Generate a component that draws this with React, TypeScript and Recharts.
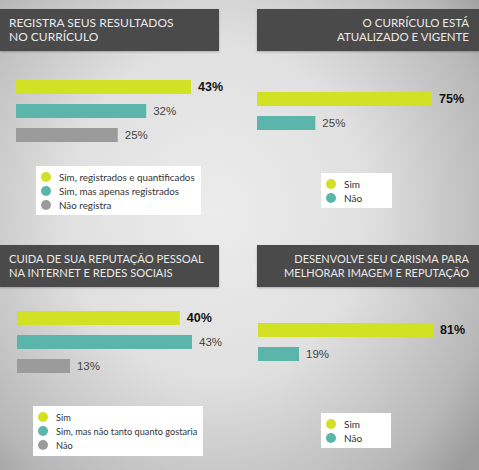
import React from 'react';
import { BarChart, Bar, XAxis, YAxis, Cell, LabelList } from 'recharts';

// survey answers, one small chart per question
const resultCategories = ['Sim, registrados e quantificados', 'Sim, mas apenas registrados', 'Não registra'];
const resultValues = [43, 32, 25];

const updatedCategories = ['Sim', 'Não'];
const updatedValues = [75, 25];

const reputationCategories = ['Sim', 'Sim, mas não tanto quanto gostaria', 'Não'];
const reputationValues = [40, 43, 13];

const charismaCategories = ['Sim', 'Não'];
const charismaValues = [81, 19];

const COLORS = ['#d3e125', '#5bb5ab', '#9b9b9b'];
const FONT = 'Lato, "Open Sans", sans-serif';

type Box = { left: number; top: number; width: number; height: number };

interface PanelProps {
    title: string[];
    titleSize: number;
    align: 'left' | 'right';
    titleBox: Box;
    chartBox: Box;
    margin: { top: number; right: number; bottom: number; left: number };
    legendBox: Box;
    legendSize: number;
    categories: string[];
    values: number[];
}

const renderLabel = (props: any) => {
    const { x, y, width, height, value, index } = props;
    const first = index === 0;
    return (
        <text
            x={Number(x) + Number(width) + 7}
            y={Number(y) + Number(height) / 2}
            dominantBaseline="central"
            fontFamily='"Liberation Sans", Arial, sans-serif'
            fontSize={first ? 12.5 : 11.5}
            fontWeight={first ? 700 : 400}
            fill={first ? '#111' : '#444'}
        >
            {value}%
        </text>
    );
};

const Panel: React.FC<PanelProps> = ({ title, titleSize, align, titleBox, chartBox, margin, legendBox, legendSize, categories, values }) => {
    const data = categories.map((name, i) => ({ name, value: values[i] }));
    return (
        <>
            <div
                style={{
                    position: 'absolute',
                    ...titleBox,
                    background: '#4a4a4a',
                    color: '#e9e9e9',
                    fontFamily: FONT,
                    fontSize: titleSize,
                    lineHeight: '14px',
                    textAlign: align,
                    whiteSpace: 'nowrap',
                    boxSizing: 'border-box',
                    padding: align === 'left' ? '7px 0 0 9px' : '7px 10px 0 0',
                    boxShadow: '0 1px 2px rgba(0,0,0,0.25)',
                }}
            >
                {title.map(t => <div key={t}>{t}</div>)}
            </div>
            <div style={{ position: 'absolute', ...chartBox }}>
                <BarChart width={chartBox.width} height={chartBox.height} data={data} layout="vertical" margin={margin}>
                    <XAxis type="number" domain={[0, 'dataMax']} hide />
                    <YAxis type="category" dataKey="name" hide />
                    <Bar dataKey="value" barSize={14} isAnimationActive={false}>
                        {data.map((_, i) => (
                            <Cell key={`cell-${i}`} fill={COLORS[i % COLORS.length]} />
                        ))}
                        <LabelList dataKey="value" content={renderLabel} />
                    </Bar>
                </BarChart>
            </div>
            <div
                style={{
                    position: 'absolute',
                    ...legendBox,
                    background: '#fff',
                    boxSizing: 'border-box',
                    padding: '4px 0 0 5px',
                    fontFamily: FONT,
                    fontSize: legendSize,
                    color: '#333',
                    whiteSpace: 'nowrap',
                }}
            >
                {categories.map((c, i) => (
                    <div key={c} style={{ display: 'flex', alignItems: 'center', height: 14 }}>
                        <span
                            style={{
                                width: 10,
                                height: 10,
                                flex: 'none',
                                borderRadius: '50%',
                                background: COLORS[i],
                                display: 'inline-block',
                                marginRight: 8,
                            }}
                        />
                        {c}
                    </div>
                ))}
            </div>
        </>
    );
};

export default function App() {
    return (
        <div
            style={{
                position: 'absolute',
                left: 0,
                top: 0,
                width: 479,
                height: 470,
                overflow: 'hidden',
                background: 'radial-gradient(ellipse 70% 80% at 45% 45%, #ececec 0%, #e0e0e0 45%, #b8b8b8 85%, #9c9c9c 100%)',
            }}
        >
            <Panel
                title={['REGISTRA SEUS RESULTADOS', 'NO CURRÍCULO']}
                titleSize={12}
                align="left"
                titleBox={{ left: 0, top: 9, width: 219, height: 42 }}
                chartBox={{ left: 0, top: 0, width: 240, height: 230 }}
                margin={{ top: 75, right: 49, bottom: 83, left: 16 }}
                legendBox={{ left: 36, top: 166, width: 165, height: 49 }}
                legendSize={9.8}
                categories={resultCategories}
                values={resultValues}
            />
            <Panel
                title={['O CURRÍCULO ESTÁ', 'ATUALIZADO E VIGENTE']}
                titleSize={11.5}
                align="right"
                titleBox={{ left: 257, top: 9, width: 222, height: 42 }}
                chartBox={{ left: 240, top: 0, width: 239, height: 230 }}
                margin={{ top: 87, right: 47, bottom: 95, left: 17 }}
                legendBox={{ left: 321, top: 173, width: 71, height: 35 }}
                legendSize={10}
                categories={updatedCategories}
                values={updatedValues}
            />
            <Panel
                title={['CUIDA DE SUA REPUTAÇÃO PESSOAL', 'NA INTERNET E REDES SOCIAIS']}
                titleSize={11.2}
                align="left"
                titleBox={{ left: 0, top: 245, width: 219, height: 42 }}
                chartBox={{ left: 0, top: 230, width: 240, height: 240 }}
                margin={{ top: 76, right: 48, bottom: 92, left: 17 }}
                legendBox={{ left: 33, top: 406, width: 170, height: 50 }}
                legendSize={9.2}
                categories={reputationCategories}
                values={reputationValues}
            />
            <Panel
                title={['DESENVOLVE SEU CARISMA PARA', 'MELHORAR IMAGEM E REPUTAÇÃO']}
                titleSize={11}
                align="right"
                titleBox={{ left: 257, top: 245, width: 222, height: 42 }}
                chartBox={{ left: 240, top: 230, width: 239, height: 240 }}
                margin={{ top: 88, right: 46, bottom: 104, left: 18 }}
                legendBox={{ left: 321, top: 413, width: 70, height: 35 }}
                legendSize={10}
                categories={charismaCategories}
                values={charismaValues}
            />
        </div>
    );
}
